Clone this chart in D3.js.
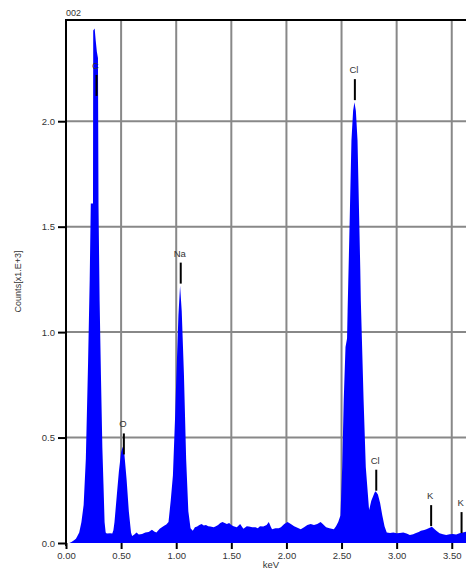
<!DOCTYPE html>
<html>
<head>
<meta charset="utf-8">
<script src="https://cdn.jsdelivr.net/npm/d3@7"></script>
<style>
  html, body { margin: 0; padding: 0; background: #fff; overflow: hidden; }
  svg { display: block; font-family: "Liberation Sans", Arial, Helvetica, sans-serif; }
</style>
</head>
<body>
<svg id="chart" width="466" height="569"></svg>
<script>
// EDS spectrum: energy channels (keV) and counts (x1000)
const energy = [
  0.00, 0.03, 0.05, 0.07, 0.09, 0.10, 0.12, 0.14, 0.16, 0.18,
  0.20, 0.215, 0.225, 0.245, 0.247, 0.26, 0.27, 0.28, 0.29, 0.295,
  0.305, 0.318, 0.33, 0.34, 0.35, 0.36, 0.37, 0.40, 0.42, 0.43,
  0.44, 0.46, 0.48, 0.50, 0.515, 0.53, 0.55, 0.57, 0.59, 0.60,
  0.62, 0.64, 0.66, 0.69, 0.72, 0.75, 0.78, 0.80, 0.82, 0.85,
  0.87, 0.89, 0.91, 0.93, 0.95, 0.97, 0.99, 1.00, 1.02, 1.035,
  1.05, 1.07, 1.09, 1.11, 1.13, 1.15, 1.17, 1.19, 1.21, 1.23,
  1.25, 1.27, 1.29, 1.31, 1.34, 1.36, 1.38, 1.40, 1.42, 1.44,
  1.46, 1.48, 1.50, 1.52, 1.55, 1.58, 1.60, 1.61, 1.64, 1.66,
  1.69, 1.72, 1.74, 1.76, 1.79, 1.82, 1.84, 1.86, 1.87, 1.90,
  1.93, 1.95, 1.98, 2.01, 2.04, 2.07, 2.10, 2.13, 2.16, 2.19,
  2.22, 2.25, 2.28, 2.31, 2.33, 2.36, 2.39, 2.41, 2.43, 2.45,
  2.47, 2.49, 2.506, 2.52, 2.536, 2.55, 2.555, 2.57, 2.59, 2.605,
  2.617, 2.63, 2.645, 2.67, 2.675, 2.70, 2.72, 2.75, 2.77, 2.80,
  2.81, 2.83, 2.85, 2.87, 2.89, 2.91, 2.94, 2.97, 3.00, 3.03,
  3.06, 3.09, 3.12, 3.15, 3.17, 3.20, 3.22, 3.25, 3.27, 3.30,
  3.32, 3.34, 3.36, 3.39, 3.42, 3.45, 3.48, 3.51, 3.54, 3.57,
  3.60, 3.63, 3.66, 3.70, 3.72
];
const counts = [
  0.0, 0.0, 0.005, 0.012, 0.02, 0.03, 0.05, 0.10, 0.18, 0.40,
  0.85, 1.25, 1.61, 1.61, 2.43, 2.44, 2.38, 2.33, 2.30, 1.60,
  1.15, 0.77, 0.45, 0.28, 0.10, 0.05, 0.045, 0.046, 0.045, 0.06,
  0.10, 0.22, 0.34, 0.43, 0.456, 0.42, 0.30, 0.15, 0.05, 0.033,
  0.04, 0.05, 0.04, 0.043, 0.05, 0.052, 0.063, 0.055, 0.05, 0.068,
  0.075, 0.082, 0.088, 0.10, 0.20, 0.32, 0.60, 0.77, 1.08, 1.22,
  1.10, 0.80, 0.40, 0.15, 0.07, 0.058, 0.075, 0.078, 0.085, 0.09,
  0.083, 0.085, 0.08, 0.078, 0.075, 0.08, 0.085, 0.095, 0.10, 0.095,
  0.09, 0.095, 0.085, 0.08, 0.075, 0.09, 0.075, 0.068, 0.08, 0.078,
  0.075, 0.075, 0.07, 0.08, 0.078, 0.085, 0.10, 0.075, 0.065, 0.07,
  0.07, 0.075, 0.09, 0.10, 0.09, 0.08, 0.072, 0.065, 0.075, 0.085,
  0.09, 0.085, 0.09, 0.10, 0.09, 0.075, 0.07, 0.068, 0.065, 0.08,
  0.10, 0.13, 0.36, 0.68, 0.93, 0.97, 1.10, 1.44, 1.91, 2.05,
  2.09, 2.05, 1.91, 1.30, 1.15, 0.68, 0.36, 0.156, 0.20, 0.24,
  0.245, 0.23, 0.19, 0.13, 0.08, 0.05, 0.048, 0.05, 0.046, 0.047,
  0.05, 0.045, 0.038, 0.042, 0.046, 0.052, 0.058, 0.062, 0.065, 0.072,
  0.077, 0.068, 0.058, 0.046, 0.042, 0.038, 0.042, 0.043, 0.04, 0.046,
  0.05, 0.054, 0.05, 0.048, 0.05
];

// Element line markers
const lineLabels = ["C", "O", "Na", "Cl", "Cl", "K", "K"];
const lineEnergy = [0.277, 0.525, 1.041, 2.621, 2.815, 3.313, 3.589];
const lineHeight = [2.12, 0.42, 1.23, 2.10, 0.248, 0.08, 0.047];

// Axis ticks
const xTicks = [0, 0.5, 1.0, 1.5, 2.0, 2.5, 3.0, 3.5];
const yTicks = [0, 0.5, 1.0, 1.5, 2.0];

const svg = d3.select("#chart");
const x = d3.scaleLinear().domain([0, 3.72]).range([66, 476]);
const y = d3.scaleLinear().domain([0, 2.48]).range([543, 20]);
const ink = "#333";

// grid
svg.append("g")
  .selectAll("line.v")
  .data(xTicks.filter(d => d > 0))
  .join("line")
  .attr("x1", d => x(d)).attr("x2", d => x(d))
  .attr("y1", y(2.48)).attr("y2", y(0))
  .attr("stroke", "#888").attr("stroke-width", 2);
svg.append("g")
  .selectAll("line.h")
  .data(yTicks.filter(d => d > 0))
  .join("line")
  .attr("x1", x(0)).attr("x2", x(3.72))
  .attr("y1", d => y(d)).attr("y2", d => y(d))
  .attr("stroke", "#888").attr("stroke-width", 2);

// spectrum fill
const pts = energy.map((e, i) => [e, counts[i]]);
const area = d3.area()
  .x(d => x(d[0]))
  .y0(y(0))
  .y1(d => y(d[1]));
svg.append("path")
  .datum(pts)
  .attr("d", area)
  .attr("fill", "#0000ff");

// frame: left axis line and top border
svg.append("line")
  .attr("x1", x(0)).attr("x2", x(0))
  .attr("y1", y(2.48) - 1).attr("y2", y(0) + 3)
  .attr("stroke", "#000").attr("stroke-width", 2);
svg.append("line")
  .attr("x1", x(0) - 1).attr("x2", x(3.72))
  .attr("y1", y(2.48)).attr("y2", y(2.48))
  .attr("stroke", "#000").attr("stroke-width", 2);

// y axis
const yAxis = svg.append("g")
  .attr("transform", `translate(${x(0)},0)`)
  .call(d3.axisLeft(y).tickValues(yTicks).tickFormat(d3.format(".1f")).tickSize(8).tickPadding(3));
yAxis.select(".domain").remove();
yAxis.selectAll(".tick line").attr("stroke", "#000").attr("stroke-width", 2);
yAxis.selectAll(".tick text").attr("fill", ink).style("font-size", "9.5px")
  .style("font-family", "'Liberation Sans', Arial, sans-serif");

// x axis
const xAxis = svg.append("g")
  .attr("transform", `translate(0,${y(0)})`)
  .call(d3.axisBottom(x).tickValues(xTicks).tickFormat(d3.format(".2f")).tickSize(6).tickPadding(3));
xAxis.select(".domain").remove();
xAxis.selectAll(".tick line").attr("stroke", "#000").attr("stroke-width", 2);
xAxis.selectAll(".tick text").attr("fill", ink).style("font-size", "9.5px")
  .style("font-family", "'Liberation Sans', Arial, sans-serif");

// axis titles
svg.append("text")
  .attr("x", 271).attr("y", 568)
  .attr("text-anchor", "middle")
  .attr("fill", ink).style("font-size", "9.5px")
  .text("keV");
svg.append("text")
  .attr("transform", `translate(21,${(y(0) + y(2.48)) / 2}) rotate(-90)`)
  .attr("text-anchor", "middle")
  .attr("fill", ink).style("font-size", "9px")
  .text("Counts[x1.E+3]");
svg.append("text")
  .attr("x", 66).attr("y", 16)
  .attr("fill", ink).style("font-size", "9px")
  .text("002");

// element markers
const marks = svg.append("g");
lineLabels.forEach((lab, i) => {
  const mx = x(lineEnergy[i]);
  const my = y(lineHeight[i]);
  marks.append("line")
    .attr("x1", mx).attr("x2", mx)
    .attr("y1", my).attr("y2", my - 21)
    .attr("stroke", "#000").attr("stroke-width", 2);
  marks.append("text")
    .attr("x", mx - 1).attr("y", my - 27)
    .attr("text-anchor", "middle")
    .attr("fill", ink).style("font-size", "9.5px")
    .text(lab);
});
</script>
</body>
</html>
